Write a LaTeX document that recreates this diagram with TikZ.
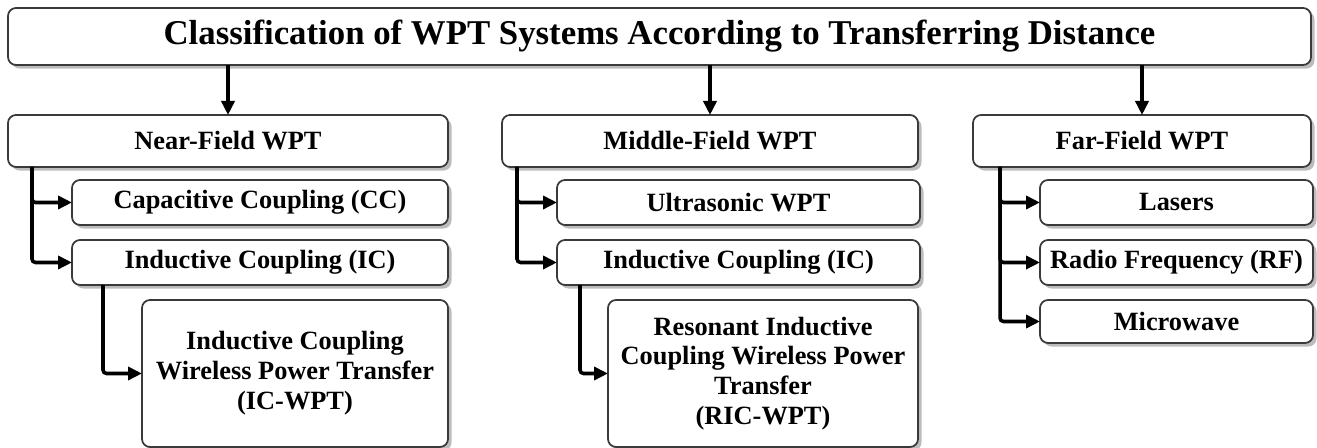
\documentclass[tikz,border=0pt]{standalone}
\usepackage{fontspec}
\setmainfont{Liberation Serif}
\usepackage{tikz}
\usetikzlibrary{arrows.meta, positioning, shadows}
\definecolor{edge}{HTML}{3A3A3A}
\definecolor{shade}{HTML}{7A7A7A}

\begin{document}
\begin{tikzpicture}[
  box/.style={draw=edge, fill=white, rounded corners=0.16cm, line width=1pt,
              drop shadow={shadow xshift=2pt, shadow yshift=-2pt, fill=shade},
              font=\fontsize{15}{17}\selectfont\bfseries, align=center,
              inner sep=2pt, outer sep=0pt, minimum height=0.9cm},
  arr/.style={-{Triangle[length=0.28cm, width=0.26cm]}, line width=2pt,
              rounded corners=2pt},
]
  \useasboundingbox (0,0) rectangle (26.34,-8.96);

  % Top box --- the classification
  \node[box, anchor=north west, minimum width=26.06cm, minimum height=1.14cm,
        font=\fontsize{19.8}{22}\selectfont\bfseries]
    (top) at (0.16,-0.16) {Classification of WPT Systems According to Transferring Distance};

  % Field ranges
  \node[box, minimum width=8.8cm, minimum height=1.04cm,
        below=1.0cm of top.south west, anchor=north west] (near) {Near-Field WPT};
  \node[box, minimum width=8.32cm, minimum height=1.04cm, right=1.08cm of near]
    (middle) {Middle-Field WPT};
  \node[box, minimum width=6.76cm, minimum height=1.04cm, right=1.1cm of middle]
    (far) {Far-Field WPT};

  % Near-field techniques
  \node[box, minimum width=7.52cm, below=0.26cm of near.south west,
        anchor=north west, xshift=1.28cm] (cc) {Capacitive Coupling (CC)};
  \node[box, minimum width=7.52cm, below=0.3cm of cc.south west,
        anchor=north west] (icnear) {Inductive Coupling (IC)};
  \node[box, minimum width=6.12cm, minimum height=2.94cm, below=0.3cm of icnear.south west,
        anchor=north west, xshift=1.4cm]
    (icwpt) {Inductive Coupling\\Wireless Power Transfer\\(IC-WPT)};

  % Middle-field techniques
  \node[box, minimum width=7.26cm, below=0.26cm of middle.south west,
        anchor=north west, xshift=1.1cm] (ultra) {Ultrasonic WPT};
  \node[box, minimum width=7.26cm, below=0.3cm of ultra.south west,
        anchor=north west] (icmid) {Inductive Coupling (IC)};
  \node[box, minimum width=6.2cm, minimum height=2.94cm, below=0.3cm of icmid.south west,
        anchor=north west, xshift=1.02cm]
    (ricwpt) {Resonant Inductive\\Coupling Wireless Power\\Transfer\\(RIC-WPT)};

  % Far-field techniques
  \node[box, minimum width=5.46cm, below=0.26cm of far.south west,
        anchor=north west, xshift=1.34cm] (lasers) {Lasers};
  \node[box, minimum width=5.46cm, below=0.3cm of lasers.south west,
        anchor=north west, inner xsep=0pt] (rf) {Radio Frequency (RF)};
  \node[box, minimum width=5.46cm, minimum height=0.86cm, below=0.3cm of rf.south west,
        anchor=north west] (micro) {Microwave};

  % Connectors
  \foreach \n in {near, middle, far}
    \draw[arr] (top.south -| \n.north) -- (\n.north);

  \draw[arr] ([xshift=0.48cm]near.south west) |- (cc.west);
  \draw[arr] ([xshift=0.48cm]near.south west) |- (icnear.west);
  \draw[arr] ([xshift=0.62cm]icnear.south west) |- (icwpt.west);

  \draw[arr] ([xshift=0.3cm]middle.south west) |- (ultra.west);
  \draw[arr] ([xshift=0.3cm]middle.south west) |- (icmid.west);
  \draw[arr] ([xshift=0.46cm]icmid.south west) |- (ricwpt.west);

  \foreach \n in {lasers, rf, micro}
    \draw[arr] ([xshift=0.54cm]far.south west) |- (\n.west);
\end{tikzpicture}
\end{document}
